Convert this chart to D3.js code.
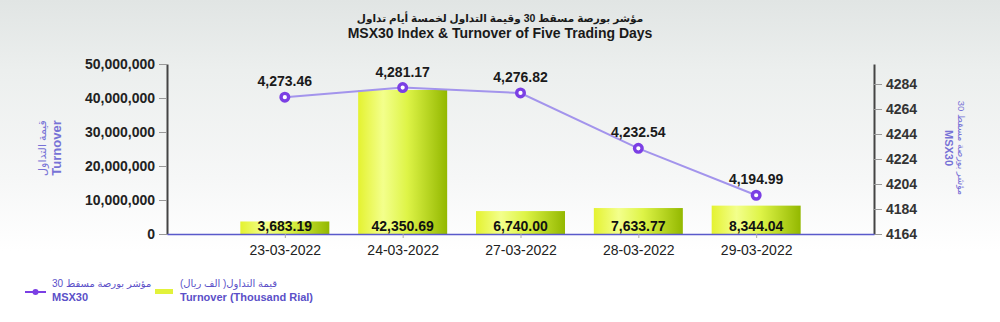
<!DOCTYPE html>
<html>
<head>
<meta charset="utf-8">
<script src="https://cdn.jsdelivr.net/npm/d3@7"></script>
<style>
body{margin:0;background:#fff}
svg{display:block;font-family:"Liberation Sans",Arial,"DejaVu Sans",sans-serif}
</style>
</head>
<body>
<div id="chart"></div>
<script>
// data
var dates = ["23-03-2022", "24-03-2022", "27-03-2022", "28-03-2022", "29-03-2022"];
var turnover = [3683.19, 42350.69, 6740.00, 7633.77, 8344.04];   // thousand rial
var msx30 = [4273.46, 4281.17, 4276.82, 4232.54, 4194.99];
var leftTicks = [0, 10000000, 20000000, 30000000, 40000000, 50000000];
var rightTicks = [4164, 4184, 4204, 4224, 4244, 4264, 4284];

var width = 1000, height = 322;
var x0 = 167, x1 = 874, yBase = 234, yTop = 64;

var svg = d3.select("#chart")
    .append("svg")
    .attr("width", width)
    .attr("height", height);

var defs = svg.append("defs");
var bg = defs.append("linearGradient").attr("id", "bg")
    .attr("x1", 0).attr("y1", 0).attr("x2", 0).attr("y2", 1);
bg.append("stop").attr("offset", "0%").attr("stop-color", "#e1e5e4");
bg.append("stop").attr("offset", "22%").attr("stop-color", "#ecefee");
bg.append("stop").attr("offset", "55%").attr("stop-color", "#f6f7f7");
bg.append("stop").attr("offset", "78%").attr("stop-color", "#ffffff");

var barGrad = defs.append("linearGradient").attr("id", "barGrad")
    .attr("x1", 0).attr("y1", 0).attr("x2", 1).attr("y2", 0);
barGrad.append("stop").attr("offset", "0%").attr("stop-color", "#e4f230");
barGrad.append("stop").attr("offset", "28%").attr("stop-color", "#f3ff8c");
barGrad.append("stop").attr("offset", "55%").attr("stop-color", "#def447");
barGrad.append("stop").attr("offset", "100%").attr("stop-color", "#93b800");

svg.append("rect").attr("width", width).attr("height", height).attr("fill", "url(#bg)");

// scales
var xscale = d3.scalePoint()
    .domain(dates)
    .range([x0, x1])
    .padding(1);

var yLeft = d3.scaleLinear()
    .domain([0, 50000000])
    .range([yBase, yTop]);

var yRight = d3.scaleLinear()
    .domain([4164, 4300])
    .range([yBase, yTop]);

var barW = 89;

// title
svg.append("text")
    .text("مؤشر بورصة مسقط 30 وقيمة التداول لخمسة أيام تداول")
    .attr("x", 500).attr("y", 22)
    .attr("text-anchor", "middle")
    .attr("font-size", 10.5).attr("font-weight", "bold").attr("fill", "#1a1a1a");
svg.append("text")
    .text("MSX30 Index & Turnover of Five Trading Days")
    .attr("x", 500).attr("y", 38)
    .attr("text-anchor", "middle")
    .attr("font-size", 14).attr("font-weight", "bold").attr("fill", "#1a1a1a");

// bars
svg.selectAll("rect.bar")
    .data(turnover)
    .enter()
    .append("rect")
    .attr("class", "bar")
    .attr("x", (d, i) => xscale(dates[i]) - barW / 2)
    .attr("y", d => yLeft(d * 1000))
    .attr("width", barW)
    .attr("height", d => yBase - yLeft(d * 1000))
    .attr("fill", "url(#barGrad)");

// left axis
var leftAxis = svg.append("g")
    .attr("transform", "translate(" + x0 + ",0)")
    .call(d3.axisLeft(yLeft).tickValues(leftTicks).tickFormat(d3.format(",")).tickSize(8).tickSizeOuter(0).tickPadding(4));
leftAxis.select(".domain").attr("stroke", "#444").attr("stroke-width", 2);
leftAxis.selectAll(".tick line").attr("stroke", "#999");
leftAxis.selectAll(".tick text")
    .attr("font-family", null)
    .attr("font-size", 14).attr("font-weight", "bold").attr("fill", "#222");

// right axis
var rightAxis = svg.append("g")
    .attr("transform", "translate(" + x1 + ",0)")
    .call(d3.axisRight(yRight).tickValues(rightTicks).tickFormat(d3.format("d")).tickSize(8).tickSizeOuter(0).tickPadding(4));
rightAxis.select(".domain").attr("stroke", "#444").attr("stroke-width", 2);
rightAxis.selectAll(".tick line").attr("stroke", "#999");
rightAxis.selectAll(".tick text")
    .attr("font-family", null)
    .attr("font-size", 14).attr("font-weight", "bold").attr("fill", "#333");

// x axis
var xAxis = svg.append("g")
    .attr("transform", "translate(0," + yBase + ")")
    .call(d3.axisBottom(xscale).tickSize(4).tickSizeOuter(0).tickPadding(7));
xAxis.select(".domain").attr("stroke", "#5a5acb").attr("stroke-width", 1.5);
xAxis.selectAll(".tick line").attr("stroke", "#aaa");
xAxis.selectAll(".tick text")
    .attr("font-family", null)
    .attr("font-size", 14).attr("fill", "#222");

// bar value labels
svg.selectAll("text.barlabel")
    .data(turnover)
    .enter()
    .append("text")
    .attr("class", "barlabel")
    .text(d => d3.format(",.2f")(d))
    .attr("x", (d, i) => xscale(dates[i]))
    .attr("y", 231)
    .attr("text-anchor", "middle")
    .attr("font-size", 14).attr("font-weight", "bold").attr("fill", "#111");

// line
var line = d3.line()
    .x((d, i) => xscale(dates[i]))
    .y(d => yRight(d));

svg.append("path")
    .datum(msx30)
    .attr("d", line)
    .attr("fill", "none")
    .attr("stroke", "#a394ec")
    .attr("stroke-width", 2);

svg.selectAll("circle.pt")
    .data(msx30)
    .enter()
    .append("circle")
    .attr("class", "pt")
    .attr("cx", (d, i) => xscale(dates[i]))
    .attr("cy", d => yRight(d))
    .attr("r", 3.8)
    .attr("fill", "#fff")
    .attr("stroke", "#7b3fe4")
    .attr("stroke-width", 3.4);

svg.selectAll("text.ptlabel")
    .data(msx30)
    .enter()
    .append("text")
    .attr("class", "ptlabel")
    .text(d => d3.format(",.2f")(d))
    .attr("x", (d, i) => xscale(dates[i]))
    .attr("y", d => yRight(d) - 11)
    .attr("text-anchor", "middle")
    .attr("font-size", 14).attr("font-weight", "bold").attr("fill", "#1a1a1a");

// axis titles
var leftTitle = svg.append("text")
    .attr("transform", "translate(0,148) rotate(-90)")
    .attr("text-anchor", "middle")
    .attr("fill", "#7772d6");
leftTitle.append("tspan").text("قيمة التداول").attr("x", 0).attr("y", 46).attr("font-size", 11);
leftTitle.append("tspan").text("Turnover").attr("x", 0).attr("y", 61).attr("font-size", 13).attr("font-weight", "bold");

var rightTitle = svg.append("text")
    .attr("transform", "translate(0,148) rotate(90)")
    .attr("text-anchor", "middle")
    .attr("fill", "#7772d6");
rightTitle.append("tspan").text("30 مؤشر بورصة مسقط").attr("x", 0).attr("y", -958).attr("font-size", 9.5);
rightTitle.append("tspan").text("MSX30").attr("x", 0).attr("y", -945).attr("font-size", 11).attr("font-weight", "bold");

// legend
var legend = svg.append("g");
legend.append("line")
    .attr("x1", 25).attr("x2", 46).attr("y1", 292).attr("y2", 292)
    .attr("stroke", "#7b3fe4").attr("stroke-width", 2);
legend.append("circle")
    .attr("cx", 35.5).attr("cy", 292).attr("r", 3)
    .attr("fill", "#7b3fe4");
legend.append("text").text("مؤشر بورصة مسقط 30")
    .attr("x", 52).attr("y", 287)
    .attr("font-size", 10).attr("fill", "#5b50c8");
legend.append("text").text("MSX30")
    .attr("x", 52).attr("y", 301)
    .attr("font-size", 11).attr("font-weight", "bold").attr("fill", "#5b50c8");
legend.append("rect")
    .attr("x", 155).attr("y", 289).attr("width", 18).attr("height", 5)
    .attr("fill", "#e2f23a");
legend.append("text").text("قيمة التداول( الف ريال)")
    .attr("x", 180).attr("y", 287)
    .attr("font-size", 10).attr("fill", "#5b50c8");
legend.append("text").text("Turnover (Thousand Rial)")
    .attr("x", 180).attr("y", 301)
    .attr("font-size", 11).attr("font-weight", "bold").attr("fill", "#5b50c8");
</script>
</body>
</html>
